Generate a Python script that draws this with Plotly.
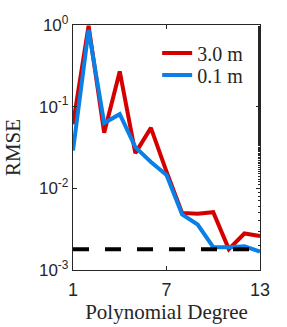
import plotly.graph_objects as go

degrees = list(range(1, 14))
rmse_3m = [0.061, 0.98, 0.048, 0.27, 0.027, 0.055, 0.016, 0.0050, 0.0049, 0.0051, 0.0018, 0.0028, 0.0026]
rmse_01m = [0.029, 0.87, 0.063, 0.081, 0.032, 0.021, 0.0146, 0.0048, 0.0036, 0.0019, 0.0019, 0.00195, 0.00168]
baseline = 0.0018
series_names = ["3.0 m", "0.1 m"]
y_tickvals = [1, 0.1, 0.01, 0.001]
y_ticktext = ["10<sup>0</sup>", "10<sup>-1</sup>", "10<sup>-2</sup>", "10<sup>-3</sup>"]
x_tickvals = [1, 7, 13]

RED = "#d40000"
BLUE = "#0a80e6"
SERIF = "Liberation Serif"
SANS = "Liberation Sans"
INK = "#262626"

fig = go.Figure()
fig.add_trace(go.Scatter(x=degrees, y=rmse_3m, mode="lines", name=series_names[0],
                         legend="legend", line=dict(color=RED, width=4)))
fig.add_trace(go.Scatter(x=degrees, y=rmse_01m, mode="lines", name=series_names[1],
                         legend="legend2", line=dict(color=BLUE, width=4)))
fig.add_trace(go.Scatter(x=[degrees[0], degrees[-1]], y=[baseline, baseline], mode="lines",
                         showlegend=False, line=dict(color="black", width=4, dash="16px,16px")))
# invisible trace on right axis for minor ticks
fig.add_trace(go.Scatter(x=[degrees[0]], y=[baseline], yaxis="y2", mode="lines",
                         showlegend=False, hoverinfo="skip", line=dict(width=0)))

legend_style = dict(xanchor="left", yanchor="middle", bgcolor="rgba(0,0,0,0)",
                    font=dict(family=SERIF, size=20, color=INK))
yrange = [-3, 0]
fig.update_layout(
    width=287, height=327,
    margin=dict(l=73, r=27, t=25, b=57, autoexpand=False),
    paper_bgcolor="white", plot_bgcolor="white",
    showlegend=True,
    legend=dict(x=0.45, y=0.886, **legend_style),
    legend2=dict(x=0.45, y=0.796, **legend_style),
    xaxis=dict(range=[1, 13], tickvals=x_tickvals, ticks="inside", ticklen=4,
               tickcolor=INK, showline=True, linecolor=INK, linewidth=1.3,
               mirror="ticks", showgrid=False, zeroline=False, automargin=False,
               ticklabelstandoff=3,
               tickfont=dict(family=SANS, size=18, color=INK),
               title=dict(text="Polynomial Degree", font=dict(family=SERIF, size=21, color=INK),
                          standoff=2)),
    yaxis=dict(type="log", range=yrange, tickvals=y_tickvals, ticktext=y_ticktext,
               ticks="inside", ticklen=4, tickcolor=INK, showline=True,
               linecolor=INK, linewidth=1.3, mirror=True, showgrid=False, zeroline=False,
               automargin=False,
               tickfont=dict(family=SANS, size=17, color=INK),
               title=dict(text="RMSE", font=dict(family=SERIF, size=21, color=INK),
                          standoff=12)),
    yaxis2=dict(type="log", range=yrange, overlaying="y", side="right",
                tickvals=y_tickvals, showticklabels=False, ticks="inside", ticklen=4,
                tickcolor=INK, showgrid=False, zeroline=False, showline=False,
                automargin=False,
                minor=dict(ticks="inside", ticklen=2, tickcolor=INK, showgrid=False)),
)

fig.write_html("out.html", config={"displayModeBar": False},
               post_script="document.body.style.margin='0px';document.body.style.overflow='hidden';")
